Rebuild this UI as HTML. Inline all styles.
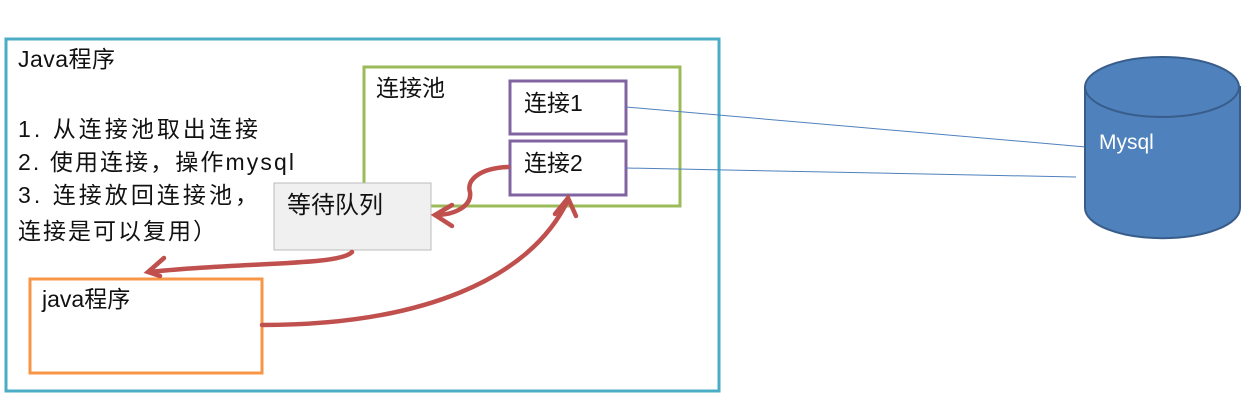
<!DOCTYPE html>
<html><head><meta charset="utf-8"><style>
html,body{margin:0;padding:0;background:#fff;}
svg text{font-family:"Liberation Sans","Noto Sans CJK SC",sans-serif;font-size:23px;fill:#111;}
</style></head><body>
<svg width="1255" height="413" xmlns="http://www.w3.org/2000/svg">
<rect x="6" y="39" width="713" height="352" fill="#fff" stroke="#4bacc6" stroke-width="3"/>
<text x="18" y="67" textLength="97">Java程序</text>
<text x="18" y="137" textLength="240">1. 从连接池取出连接</text>
<text x="18" y="170" textLength="276">2. 使用连接，操作mysql</text>
<text x="18" y="203" textLength="240">3. 连接放回连接池，</text>
<text x="18" y="239" textLength="198">连接是可以复用）</text>
<rect x="364" y="67" width="316" height="139" fill="none" stroke="#9bbb59" stroke-width="3"/>
<text x="376" y="96">连接池</text>
<rect x="510" y="81" width="116" height="53" fill="#fff" stroke="#8064a2" stroke-width="3"/>
<text x="524" y="111">连接1</text>
<rect x="510" y="141" width="116" height="54" fill="#fff" stroke="#8064a2" stroke-width="3"/>
<text x="524" y="171">连接2</text>
<rect x="274" y="183" width="157" height="67" fill="#f0f0f0" stroke="#bbb" stroke-width="1"/>
<text x="287" y="213" style="font-size:24px">等待队列</text>
<rect x="30" y="279" width="232" height="94" fill="#fff" stroke="#f79646" stroke-width="3"/>
<text x="42" y="307">java程序</text>
<line x1="626" y1="107" x2="1086" y2="147" stroke="#4f81bd" stroke-width="1"/>
<line x1="626" y1="168" x2="1076" y2="177" stroke="#4f81bd" stroke-width="1"/>
<path d="M1085 87 L1085 208 A77 30 0 0 0 1240 208 L1240 87 Z" fill="#4f81bd" stroke="#385d8a" stroke-width="2"/>
<ellipse cx="1162" cy="87" rx="77" ry="30" fill="#4f81bd" stroke="#385d8a" stroke-width="2"/>
<text x="1099" y="149" style="fill:#fff;font-size:21px">Mysql</text>
<g fill="none" stroke="#c0504d" stroke-width="4.5" stroke-linecap="round">
<path d="M508 167 C480 168 466 180 470 192 C472 206 455 215 435 215"/>
<path d="M452 205 L435 215 L452 226"/>
<path d="M352 252 C340 266 240 262 150 272"/>
<path d="M164 258 L148 272 L160 276"/>
<path d="M262 325 C420 325 530 280 568 200"/>
<path d="M555 214 L568 198 L576 216"/>
</g>
</svg>
</body></html>
